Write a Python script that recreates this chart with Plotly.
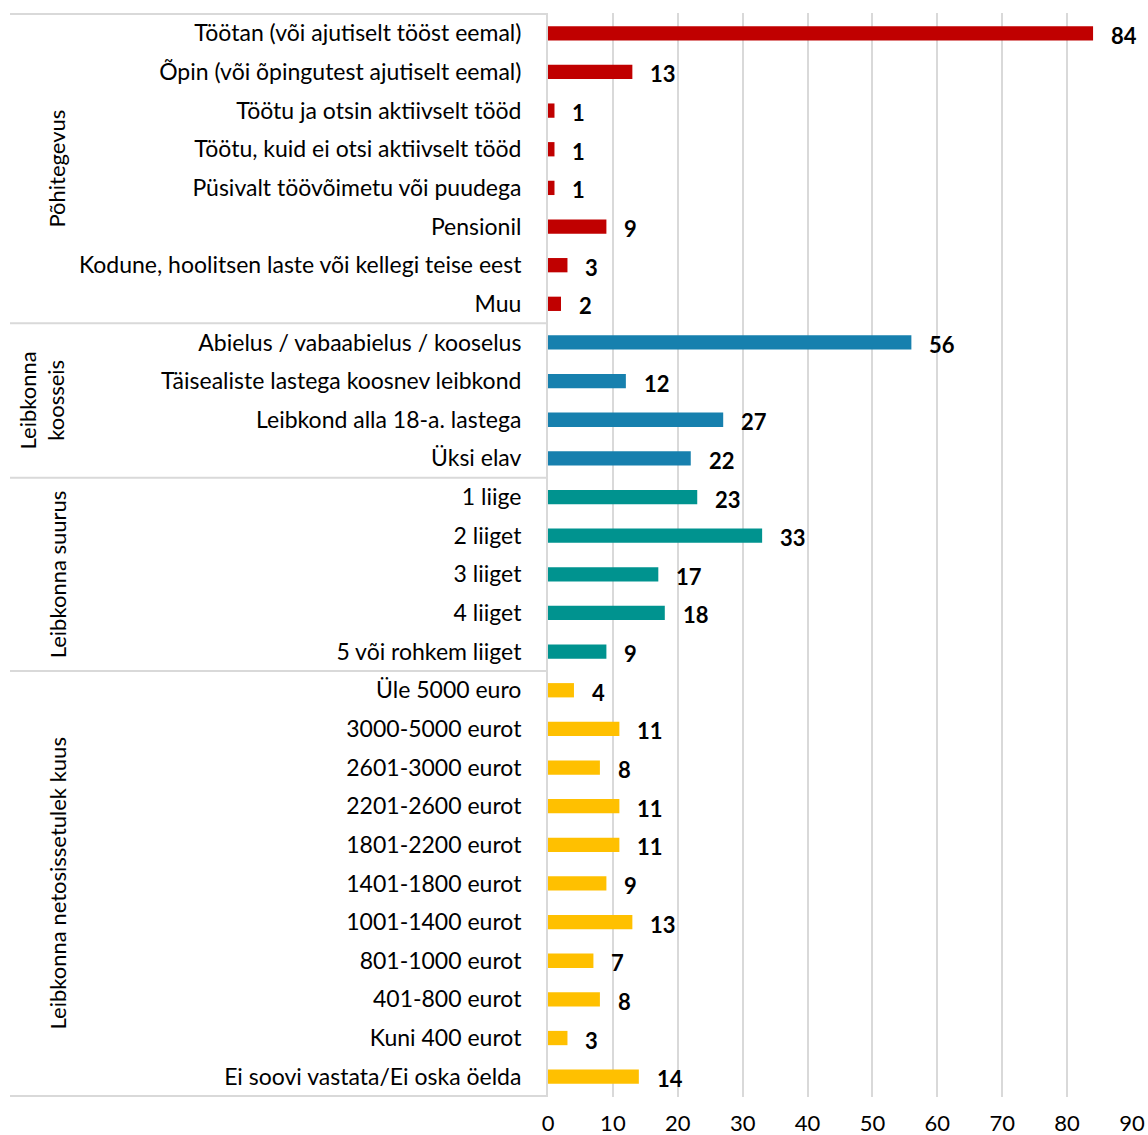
import plotly.graph_objects as go

categories = [
    "Töötan (või ajutiselt tööst eemal)",
    "Õpin (või õpingutest ajutiselt eemal)",
    "Töötu ja otsin aktiivselt tööd",
    "Töötu, kuid ei otsi aktiivselt tööd",
    "Püsivalt töövõimetu või puudega",
    "Pensionil",
    "Kodune, hoolitsen laste või kellegi teise eest",
    "Muu",
    "Abielus / vabaabielus / kooselus",
    "Täisealiste lastega koosnev leibkond",
    "Leibkond alla 18-a. lastega",
    "Üksi elav",
    "1 liige",
    "2 liiget",
    "3 liiget",
    "4 liiget",
    "5 või rohkem liiget",
    "Üle 5000 euro",
    "3000-5000 eurot",
    "2601-3000 eurot",
    "2201-2600 eurot",
    "1801-2200 eurot",
    "1401-1800 eurot",
    "1001-1400 eurot",
    "801-1000 eurot",
    "401-800 eurot",
    "Kuni 400 eurot",
    "Ei soovi vastata/Ei oska öelda",
]
values = [84, 13, 1, 1, 1, 9, 3, 2,
          56, 12, 27, 22,
          23, 33, 17, 18, 9,
          4, 11, 8, 11, 11, 9, 13, 7, 8, 3, 14]
groups = ["Põhitegevus", "Leibkonna<br>koosseis", "Leibkonna suurus", "Leibkonna netosissetulek kuus"]
group_sizes = [8, 4, 5, 11]
group_colors = ["#C00000", "#1780AE", "#00938F", "#FFC000"]
x_ticks = [0, 10, 20, 30, 40, 50, 60, 70, 80, 90]

FONT = "Lato"
FS = 22
W, H = 1148, 1135
L, R, T, B = 548, 16, 13, 38
plot_w = W - L - R

colors = []
for c, n in zip(group_colors, group_sizes):
    colors += [c] * n

fig = go.Figure()
fig.add_trace(go.Bar(
    y=categories, x=values, orientation="h",
    marker=dict(color=colors, line=dict(width=0)),
    width=0.37, hoverinfo="x+y",
))

for cat, v in zip(categories, values):
    fig.add_annotation(x=v, y=cat, text=f"<b>{v}</b>", showarrow=False,
                       xanchor="left", xshift=16, yshift=-2,
                       font=dict(family=FONT, size=FS, color="#000000"))

# group separators and group labels
start = 0
line_col = "#D9D9D9"
bounds = [-0.5]
for g, n in zip(groups, group_sizes):
    end = start + n
    bounds.append(end - 0.5)
    mid = (start + end - 1) / 2
    two = "<br>" in g
    fig.add_annotation(x=0, xref="paper", xshift=-(L - 42) if two else -(L - 57), y=mid,
                       yref="y", text=g, textangle=-90, showarrow=False,
                       xanchor="center", yanchor="middle",
                       font=dict(family=FONT, size=FS, color="#000000"))
    start = end
for b in bounds:
    fig.add_shape(type="line", xref="paper", yref="y", x0=-(L - 10) / plot_w, x1=0, y0=b, y1=b,
                  line=dict(color=line_col, width=2), layer="below")

fig.update_layout(
    width=W, height=H,
    margin=dict(l=L, r=R, t=T, b=B, autoexpand=False),
    plot_bgcolor="white", paper_bgcolor="white",
    showlegend=False,
    font=dict(family=FONT, size=FS, color="#000000"),
    xaxis=dict(range=[0, 90], tickvals=x_ticks, showgrid=True, gridcolor=line_col,
               gridwidth=2, zeroline=False, showline=False, ticks="outside",
               ticklen=7, tickcolor="rgba(0,0,0,0)", tickfont=dict(family=FONT, size=FS),
               automargin=False),
    yaxis=dict(categoryorder="array", categoryarray=categories, autorange="reversed",
               showline=True, linecolor=line_col, linewidth=2, ticks="outside",
               ticklen=20, tickcolor="rgba(0,0,0,0)", showgrid=False,
               tickfont=dict(family=FONT, size=23), automargin=False),
)
fig.write_html("out.html", config={"displayModeBar": False},
               post_script="document.body.style.margin='0px';document.body.style.overflow='hidden';")
